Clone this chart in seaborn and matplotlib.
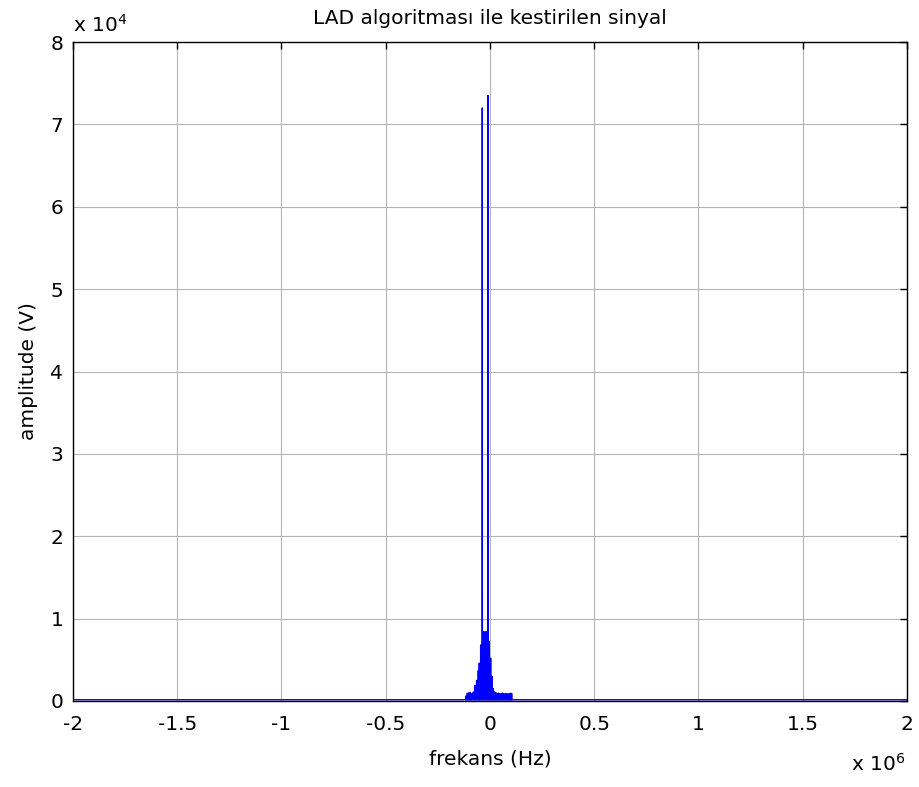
import numpy as np
import pandas as pd
import seaborn as sns
import matplotlib
matplotlib.use("Agg")
import matplotlib.pyplot as plt

# spectrum peaks (Hz, V)
peak_freq = [-116500, -108700, -100700, -94400, -87800, -79900, -72000, -64000,
             -56000, -51200, -44600, -36800, -30400, -24000, -17600, -9600,
             -3200, 3200, 9600, 16000, 22400, 28800, 35200, 41600, 48000,
             54400, 60800, 67200, 73600, 80000, 86400, 92800, 99200, 104000]
peak_amp = [600, 950, 1000, 1050, 900, 1100, 1900, 2500,
            3700, 4600, 6800, 72000, 8400, 8400, 8400, 73500,
            7200, 5200, 3000, 1500, 1100, 1000, 900, 950,
            850, 900, 950, 850, 900, 900, 850, 900, 950, 900]
base_level = 150
x_range = [-2e6, 2e6]

xticks = [-2, -1.5, -1, -0.5, 0, 0.5, 1, 1.5, 2]
yticks = [0, 1, 2, 3, 4, 5, 6, 7, 8]

# build the line: baseline, spike, baseline ...
freqs = [x_range[0]]
amps = [base_level]
for f, a in zip(peak_freq, peak_amp):
    freqs += [f - 300, f, f + 300]
    amps += [base_level, a, base_level]
freqs.append(x_range[1])
amps.append(base_level)
df = pd.DataFrame({"frekans": freqs, "amplitude": amps})

sns.set_style("white")
plt.rcParams['font.family'] = ['DejaVu Sans']
plt.rcParams['text.color'] = 'black'
plt.rcParams['axes.labelcolor'] = 'black'
FS = 14.5

fig = plt.figure(figsize=(9.19, 7.87), dpi=100)
ax = fig.add_axes([0.0794, 0.1093, 0.9075, 0.8373])

sns.lineplot(data=df, x="frekans", y="amplitude", ax=ax, sort=False,
             estimator=None, color="blue", linewidth=1.0)

ax.set_xlim(-2e6, 2e6)
ax.set_ylim(0, 8e4)
ax.set_xticks([t * 1e6 for t in xticks])
ax.set_xticklabels([f"{t:g}" for t in xticks])
ax.set_yticks([t * 1e4 for t in yticks])
ax.set_yticklabels([f"{t:g}" for t in yticks])
ax.grid(True, color="#b4b4b4", linestyle="-", linewidth=0.8)
ax.tick_params(direction="in", length=5, width=1, top=True, right=True,
               colors="black", labelsize=FS)
ax.tick_params(axis="x", pad=10)
ax.tick_params(axis="y", pad=7)
for s in ax.spines.values():
    s.set_color("black")
    s.set_linewidth(1)

ax.set_title("LAD algoritması ile kestirilen sinyal", fontsize=FS, pad=13,
             color="black")
ax.set_xlabel("frekans (Hz)", fontsize=FS, labelpad=11)
ax.set_ylabel("amplitude (V)", fontsize=FS, labelpad=9)

fig.text(0.079, 0.955, r"x 10$^4$", fontsize=FS, ha="left", va="bottom")
fig.text(0.985, 0.016, r"x 10$^6$", fontsize=FS, ha="right", va="bottom")

fig.savefig("out.png", dpi=100)
